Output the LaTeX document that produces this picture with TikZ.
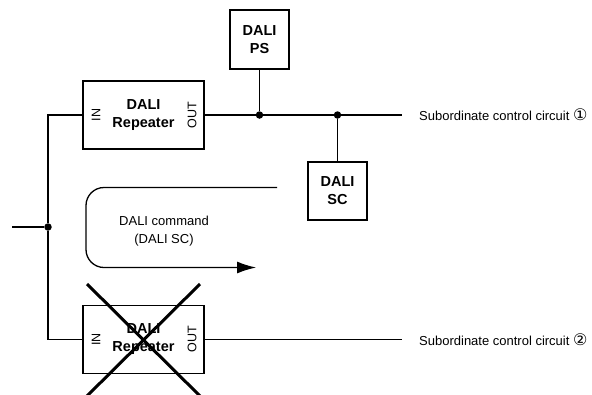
\documentclass[tikz,border=0pt]{standalone}
\usepackage{fontspec}
\setmainfont{Liberation Sans}
\newfontfamily\circfont{DejaVu Sans}
\usepackage{tikz}
\usetikzlibrary{positioning, arrows.meta}
\tikzset{
    unit/.style={draw, rectangle, line width=1.9pt, align=center, inner sep=0pt,
                 font=\bfseries\fontsize{14.5}{18}\selectfont},
    repbox/.style={unit, minimum width=121pt, minimum height=68pt},
    smallbox/.style={unit, minimum width=59pt, minimum height=59pt},
    port/.style={rotate=90, inner sep=0pt, font=\fontsize{12.5}{14}\selectfont},
    label/.style={anchor=west, inner sep=0pt, font=\fontsize{13}{16}\selectfont},
    conn/.style={-, line width=1.9pt},
    dot/.style={circle, fill=black, inner sep=0pt, minimum size=7.5pt},
    cmd/.style={line width=1.3pt, rounded corners=18pt},
    cross/.style={line width=3pt},
}
\begin{document}
\begin{tikzpicture}[x=1pt, y=-1pt]
        \useasboundingbox (0,0) rectangle (592,394);

        \node[repbox] (rep1) at (143.5,115) {DALI\\Repeater};
        \node[repbox] (rep2) at (143.5,339.5) {DALI\\Repeater};
        \node[smallbox] (ps) at (259.5,39.5) {DALI\\PS};
        \node[smallbox, minimum height=58pt] (sc) at (337.5,191) {DALI\\SC};

        \node[port] (in1) at (96,115) {IN};
        \node[port] (out1) at (192,115) {OUT};
        \node[port] (in2) at (96,339.5) {IN};
        \node[port] (out2) at (192,339.5) {OUT};

        \node[dot] (jps) at (259.5,115) {};
        \node[dot] (jsc) at (337.5,115) {};
        \node[dot] (jin) at (48,227) {};

        \coordinate (end1) at (402,115);
        \coordinate (end2) at (402,339.5);
        \coordinate (feed) at (12,227);
        \coordinate (top) at (48,115);
        \coordinate (bot) at (48,339.5);

        \node[label] (sub1) at (419,115) {Subordinate control circuit {\circfont\fontsize{16}{16}\selectfont ①}};
        \node[label] (sub2) at (419,339.5) {Subordinate control circuit {\circfont\fontsize{16}{16}\selectfont ②}};

        \draw[conn] (rep1.east) -- (jps) -- (jsc) -- (end1);
        \draw[conn] (ps.south) -- (jps);
        \draw[conn] (sc.north) -- (jsc);
        \draw[conn] (rep1.west) -- (top) -- (jin) -- (bot) -- (rep2.west);
        \draw[conn] (feed) -- (jin);
        \draw[conn] (rep2.east) -- (end2);

        % command path
        \coordinate (cmdstart) at (277,187.5);
        \coordinate (cmdtip) at (256,267.5);
        \draw[cmd, -{Latex[length=19pt, width=12pt]}] (cmdstart) -- (86,187.5) -- (86,267.5) -- (cmdtip);
        \node[align=center, font=\fontsize{13}{18}\selectfont] (cmdtxt) at (164,231) {DALI command\\(DALI SC)};

        % repeater 2 out of use
        \coordinate (xa) at (87,284);
        \coordinate (xb) at (200,284);
        \coordinate (xc) at (87,396);
        \coordinate (xd) at (200,396);
        \draw[cross] (xa) -- (xd);
        \draw[cross] (xb) -- (xc);
\end{tikzpicture}
\end{document}
